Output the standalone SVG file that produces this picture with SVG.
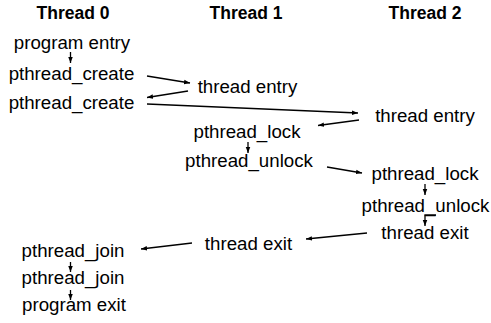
<svg xmlns="http://www.w3.org/2000/svg" width="491" height="323" viewBox="0 0 491 323">
<defs>
<marker id="ah" viewBox="0 0 10 10" refX="10" refY="5" markerWidth="6" markerHeight="6" markerUnits="userSpaceOnUse" orient="auto">
<path d="M0,1.3 L10,5 L0,8.7 z" fill="#000"/>
</marker>
<style>
text{font-family:"Liberation Sans",Arial,sans-serif;font-size:18.7px;fill:#000;text-anchor:middle}
.t{font-weight:bold;font-size:17.5px}
.c{fill:none;stroke:#000;stroke-width:1.3;marker-end:url(#ah)}
</style>
</defs>
<rect width="491" height="323" fill="#fff"/>
<g id="titles">
<text class="t" x="73" y="18.5">Thread 0</text>
<text class="t" x="246" y="18.5">Thread 1</text>
<text class="t" x="425" y="18.5">Thread 2</text>
</g>
<g id="n-program-entry"><text x="72" y="49">program entry</text></g>
<g id="n-create1"><text x="71.5" y="80">pthread_create</text></g>
<g id="n-create2"><text x="71.5" y="109">pthread_create</text></g>
<g id="n-t1-entry"><text x="247.5" y="93">thread entry</text></g>
<g id="n-t2-entry"><text x="425" y="122">thread entry</text></g>
<g id="n-t1-lock"><text x="247" y="138">pthread_lock</text></g>
<g id="n-t1-unlock"><text x="249" y="167">pthread_unlock</text></g>
<g id="n-t2-lock"><text x="425" y="180">pthread_lock</text></g>
<g id="n-t2-unlock"><text x="425.5" y="212">pthread_unlock</text></g>
<g id="n-t2-exit"><text x="425" y="239">thread exit</text></g>
<g id="n-t1-exit"><text x="248.5" y="250">thread exit</text></g>
<g id="n-join1"><text x="73" y="257">pthread_join</text></g>
<g id="n-join2"><text x="73" y="284">pthread_join</text></g>
<g id="n-program-exit"><text x="74" y="311">program exit</text></g>
<g id="connectors">
<path class="c" d="M70.5,52 V63"/>
<path class="c" d="M147,76 L190,83"/>
<path class="c" d="M188,91 L147,97.5"/>
<path class="c" d="M147,104 L358,113"/>
<path class="c" d="M359,120 L318,125.5"/>
<path class="c" d="M248,142 V153"/>
<path class="c" d="M327,167 L362,173"/>
<path class="c" d="M425,184 V195"/>
<path class="c" d="M436,215 H425 V226"/>
<path class="c" d="M367,233 L306,239"/>
<path class="c" d="M192,243 L141,249"/>
<path class="c" d="M70.5,262 V272"/>
<path class="c" d="M70.5,290 V300"/>
</g>
</svg>
